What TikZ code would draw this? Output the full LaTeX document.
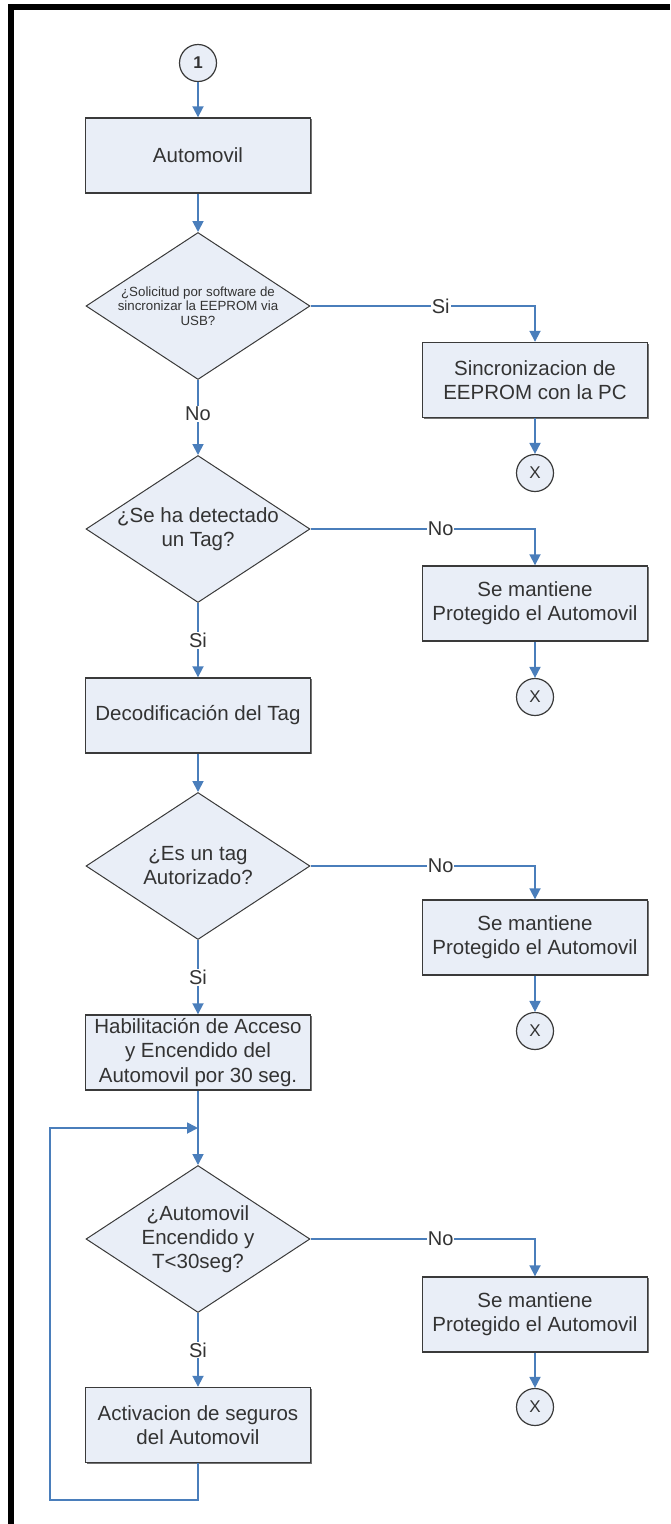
\documentclass[tikz,border=0pt]{standalone}
\usepackage{fontspec}
\setmainfont{Liberation Sans}
\usetikzlibrary{arrows.meta,shapes.geometric,shadows}
\definecolor{flowblue}{HTML}{4A7EBB}
\definecolor{boxfill}{HTML}{E9EEF7}
\definecolor{edgegray}{HTML}{3A3A3A}
\definecolor{txt}{HTML}{333333}

\begin{document}
\begin{tikzpicture}[x=1pt,y=-1pt,
  font=\fontsize{20.5}{24}\selectfont,
  every node/.style={text=txt},
  procbox/.style={draw=edgegray, line width=1.4pt, fill=boxfill,
    minimum width=225pt, minimum height=75pt, inner sep=0pt, align=center,
    drop shadow={shadow xshift=1.3pt, shadow yshift=-1.3pt, fill=black!55, opacity=1}},
  decision/.style={diamond, draw=edgegray, line width=1pt, fill=boxfill,
    minimum width=224pt, minimum height=147pt, inner sep=0pt},
  dtext/.style={align=center},
  connector/.style={circle, draw=edgegray, line width=1.2pt, fill=boxfill,
    minimum size=37pt, inner sep=0pt, font=\fontsize{17}{17}\selectfont},
  flow/.style={draw=flowblue, line width=1.8pt, -{Triangle[length=11pt,width=11pt]}},
  answer/.style={fill=white, inner sep=1pt, font=\fontsize{20}{20}\selectfont},
]
\useasboundingbox (0,0) rectangle (670,1524);

% page frame (top and left edges)
\fill[black] (8,4) rectangle (670,10);
\fill[black] (8,4) rectangle (14,1524);

% main column
\node[connector] (start) at (198,63) {\textbf{1}};
\node[procbox] (auto) at (198,155.5) {Automovil};
\node[decision, label={[dtext, font=\fontsize{13.3}{14.5}\selectfont]center:{¿Solicitud por software de\\sincronizar la EEPROM via\\USB?}}] (d1) at (198,306) {};
\node[decision, label={[dtext]center:{¿Se ha detectado\\un Tag?}}] (d2) at (198,529) {};
\node[procbox] (decod) at (198,715.5) {Decodificación del Tag};
\node[decision, label={[dtext]center:{¿Es un tag\\Autorizado?}}] (d3) at (198,866) {};
\node[procbox, font=\fontsize{20.5}{24.5}\selectfont] (hab) at (198,1052.5) {Habilitación de Acceso\\y Encendido del\\Automovil por 30 seg.};
\node[decision, label={[dtext]center:{¿Automovil\\Encendido y\\T<30seg?}}] (d4) at (198,1239) {};
\node[procbox] (act) at (198,1425) {Activacion de seguros\\del Automovil};

% right column
\node[procbox] (sync) at (535,380) {Sincronizacion de\\EEPROM con la PC};
\node[connector] (x1) at (535,473) {X};
\node[procbox] (prot1) at (535,603.5) {Se mantiene\\Protegido el Automovil};
\node[connector] (x2) at (535,697) {X};
\node[procbox] (prot2) at (535,937.5) {Se mantiene\\Protegido el Automovil};
\node[connector] (x3) at (535,1031) {X};
\node[procbox] (prot3) at (535,1314.5) {Se mantiene\\Protegido el Automovil};
\node[connector] (x4) at (535,1407) {X};

% loop points
\coordinate (join) at (198,1128);
\coordinate (loopturn) at (50,1500);

% main flow
\draw[flow] (start.south) -- (auto.north);
\draw[flow] (auto.south) -- (d1.north);
\draw[flow] (d1.south) -- node[answer, pos=0.45]{No} (d2.north);
\draw[flow] (d2.south) -- node[answer]{Si} (decod.north);
\draw[flow] (decod.south) -- (d3.north);
\draw[flow] (d3.south) -- node[answer]{Si} (hab.north);
\draw[flow] (hab.south) -- (d4.north);
\draw[flow] (d4.south) -- node[answer]{Si} (act.north);
\draw[flow] (act.south) |- (loopturn) |- (join);

% branches
\draw[flow] (d1.east) -| node[answer, pos=0.29]{Si} (sync.north);
\draw[flow] (sync.south) -- (x1.north);
\draw[flow] (d2.east) -| node[answer, pos=0.29]{No} (prot1.north);
\draw[flow] (prot1.south) -- (x2.north);
\draw[flow] (d3.east) -| node[answer, pos=0.29]{No} (prot2.north);
\draw[flow] (prot2.south) -- (x3.north);
\draw[flow] (d4.east) -| node[answer, pos=0.29]{No} (prot3.north);
\draw[flow] (prot3.south) -- (x4.north);
\end{tikzpicture}
\end{document}
